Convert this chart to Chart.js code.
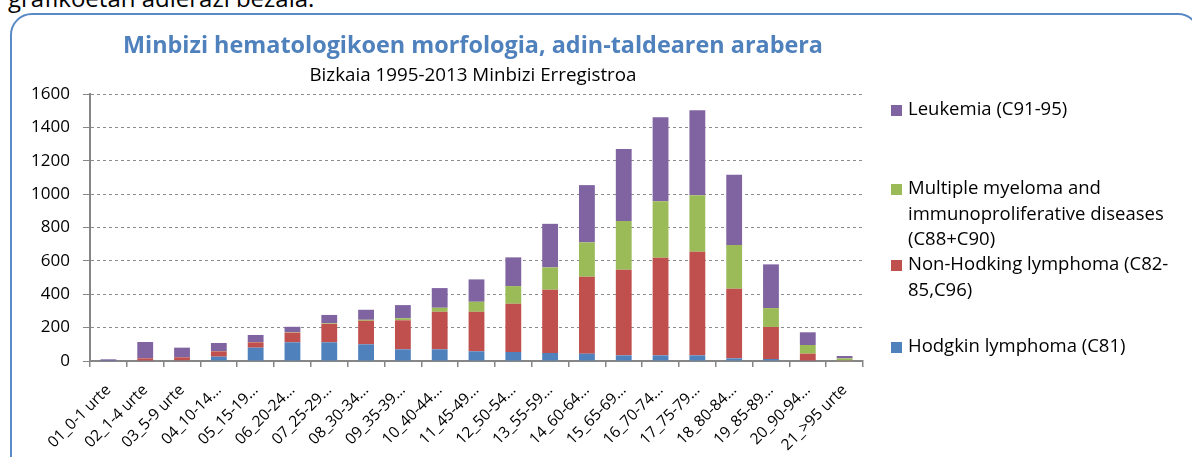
<!DOCTYPE html>
<html>
<head>
<meta charset="utf-8">
<script src="https://cdn.jsdelivr.net/npm/chart.js@4/dist/chart.umd.min.js"></script>
<style>
  html, body { margin: 0; padding: 0; background: #fff; }
  body { width: 1192px; height: 457px; position: relative; overflow: hidden; font-family: 'Open Sans', Lato, sans-serif; }
  #intro { position: absolute; left: 8px; top: -14px; font-size: 24px; line-height: 24px; color: #000; white-space: nowrap; }
  #frame { position: absolute; left: 10px; top: 13px; width: 1190px; height: 480px; border: 2px solid #5a8ac6; border-radius: 22px; box-sizing: border-box; }
  #wrap { position: absolute; left: 0; top: 0; width: 946px; height: 457px; }
  .ttl { position: absolute; left: 0; width: 946px; text-align: center; white-space: nowrap; }
  #title { top: 33px; font-size: 23.4px; line-height: 23.4px; font-weight: bold; color: #4f81bd; }
  #subtitle { top: 65px; font-size: 18.8px; line-height: 18.8px; color: #000; }
  #legend { position: absolute; left: 891px; top: 0; width: 300px; font-size: 18.5px; color: #000; }
  .item { position: absolute; left: 0; white-space: nowrap; line-height: 25.5px; }
  .item span { display: inline-block; width: 11px; height: 11px; margin-right: 6px; vertical-align: -1px; }
  .item .txt { display: inline-block; vertical-align: top; }
</style>
</head>
<body>
<div id="intro">grafikoetan adierazi bezala.</div>
<div id="frame"></div>
<div id="wrap"><canvas id="chart"></canvas></div>
<div class="ttl" id="title">Minbizi hematologikoen morfologia, adin-taldearen arabera</div>
<div class="ttl" id="subtitle">Bizkaia 1995-2013 Minbizi Erregistroa</div>
<div id="legend"></div>
<script>
// age groups (as shown, truncated the same way)
const ageGroups = ['01_0-1 urte','02_1-4 urte','03_5-9 urte','04_10-14…','05_15-19…','06_20-24…','07_25-29…',
  '08_30-34…','09_35-39…','10_40-44…','11_45-49…','12_50-54…','13_55-59…','14_60-64…','15_65-69…',
  '16_70-74…','17_75-79…','18_80-84…','19_85-89…','20_90-94…','21_>95 urte'];

// cases per group
const hodgkin    = [1, 2, 4, 26, 80, 112, 112, 100, 70, 70, 58, 54, 48, 44, 34, 34, 34, 16, 12, 2, 0];
const nonHodgkin = [1, 14, 18, 32, 32, 58, 110, 141, 174, 225, 237, 289, 379, 461, 513, 585, 621, 417, 192, 42, 4];
const myeloma    = [0, 0, 0, 2, 2, 3, 4, 6, 12, 24, 60, 106, 134, 206, 292, 339, 339, 262, 113, 52, 12];
const leukemia   = [8, 98, 58, 48, 42, 32, 50, 60, 79, 118, 134, 172, 261, 343, 431, 502, 509, 421, 262, 76, 14];

const yTicks = [0, 200, 400, 600, 800, 1000, 1200, 1400, 1600];

const series = [
  { label: 'Hodgkin lymphoma (C81)', lines: ['Hodgkin lymphoma (C81)'], data: hodgkin, color: '#4f81bd', y: 332 },
  { label: 'Non-Hodking lymphoma (C82-85,C96)', lines: ['Non-Hodking lymphoma (C82-', '85,C96)'], data: nonHodgkin, color: '#c0504d', y: 250 },
  { label: 'Multiple myeloma and immunoproliferative diseases (C88+C90)', lines: ['Multiple myeloma and', 'immunoproliferative diseases', '(C88+C90)'], data: myeloma, color: '#9bbb59', y: 174 },
  { label: 'Leukemia (C91-95)', lines: ['Leukemia (C91-95)'], data: leukemia, color: '#8064a2', y: 95 }
];

// legend on the right, top item = top of the stack
const legendEl = document.getElementById('legend');
series.forEach(s => {
  const d = document.createElement('div');
  d.className = 'item';
  d.style.top = s.y + 'px';
  d.innerHTML = '<span style="background:' + s.color + '"></span><div class="txt">' + s.lines.join('<br>') + '</div>';
  legendEl.appendChild(d);
});

const axisGrey = '#868686';
const font = '"Open Sans", Lato, sans-serif';

new Chart(document.getElementById('chart').getContext('2d'), {
  type: 'bar',
  data: {
    labels: ageGroups,
    datasets: series.map(s => ({
      label: s.label, data: s.data, backgroundColor: s.color,
      barPercentage: 0.43, categoryPercentage: 1
    }))
  },
  options: {
    responsive: true, maintainAspectRatio: false, animation: false,
    layout: { padding: { left: 0, right: 83, top: 94, bottom: 0 } },
    plugins: {
      legend: { display: false },
      tooltip: { enabled: false }
    },
    scales: {
      x: {
        stacked: true,
        afterFit: s => { s.height = 96; },
        grid: { display: true, drawOnChartArea: false, drawTicks: true, tickLength: 6, color: axisGrey, lineWidth: 1.5, offset: true },
        border: { display: true, color: axisGrey, width: 2 },
        ticks: { color: '#000', font: { family: font, size: 15.5 }, minRotation: 45, maxRotation: 45, padding: 14, autoSkip: false }
      },
      y: {
        stacked: true, min: 0, max: 1600,
        afterFit: s => { s.width = 90; },
        afterBuildTicks: s => { s.ticks = yTicks.map(v => ({ value: v })); },
        grid: { color: '#8c8c8c', lineWidth: 1, tickLength: 7, tickBorderDash: [], tickColor: axisGrey },
        border: { display: true, color: axisGrey, width: 2, dash: [3, 3] },
        ticks: { color: '#000', font: { family: font, size: 17 }, padding: 13, callback: v => String(v) }
      }
    }
  }
});
</script>
</body>
</html>
